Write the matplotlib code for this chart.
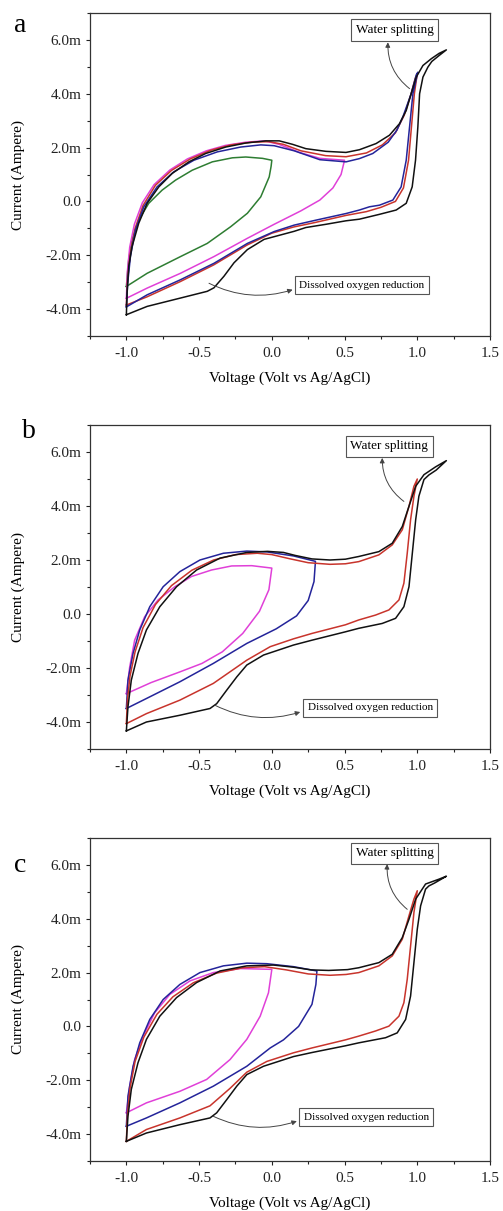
import matplotlib
matplotlib.use("Agg")
import matplotlib.pyplot as plt
from matplotlib.ticker import MultipleLocator, FuncFormatter

plt.rcParams['font.family'] = ['Liberation Serif', 'DejaVu Serif']
plt.rcParams['axes.unicode_minus'] = False

# cyclic voltammograms: (potential V vs Ag/AgCl, current mA), anodic sweep then cathodic return
a_black = [(-1.0, -4.21), (-0.995, -3.41), (-0.984, -2.42), (-0.961, -1.68), (-0.915, -0.81),
           (-0.857, -0.07), (-0.777, 0.54), (-0.685, 1.04), (-0.570, 1.47), (-0.455, 1.78),
           (-0.317, 2.02), (-0.179, 2.17), (-0.041, 2.25), (0.051, 2.25), (0.143, 2.12),
           (0.234, 1.96), (0.372, 1.86), (0.51, 1.82), (0.602, 1.92), (0.717, 2.15),
           (0.809, 2.46), (0.878, 2.89), (0.924, 3.38), (0.958, 4.0), (0.993, 4.62),
           (1.039, 5.05), (1.096, 5.30), (1.15, 5.50), (1.2, 5.63),
           (1.15, 5.42), (1.10, 5.20), (1.073, 4.99), (1.039, 4.62), (1.016, 4.0),
           (1.004, 2.77), (0.988, 1.53), (0.965, 0.54), (0.924, -0.07), (0.855, -0.32),
           (0.740, -0.48), (0.602, -0.66), (0.510, -0.72), (0.372, -0.85), (0.234, -0.97),
           (0.154, -1.11), (-0.053, -1.41), (-0.168, -1.79), (-0.260, -2.28), (-0.329, -2.78),
           (-0.398, -3.21), (-0.444, -3.34), (-0.628, -3.59), (-0.857, -3.90), (-1.0, -4.21)]
a_red = [(-1.0, -3.85), (-0.993, -3.0), (-0.975, -2.0), (-0.94, -1.0), (-0.885, -0.15),
         (-0.80, 0.60), (-0.69, 1.15), (-0.56, 1.58), (-0.42, 1.90), (-0.28, 2.10),
         (-0.14, 2.20), (-0.02, 2.22), (0.08, 2.12), (0.20, 1.88), (0.37, 1.70),
         (0.51, 1.66), (0.65, 1.80), (0.76, 2.10), (0.85, 2.55), (0.91, 3.20),
         (0.955, 3.95), (0.985, 4.55), (1.0, 4.75),
         (0.98, 4.0), (0.96, 2.77), (0.94, 1.53), (0.905, 0.50), (0.85, 0.0),
         (0.75, -0.22), (0.65, -0.38), (0.51, -0.52), (0.30, -0.78),
         (0.15, -0.95), (0.0, -1.18), (-0.17, -1.62), (-0.40, -2.36), (-0.63, -2.98),
         (-0.86, -3.55), (-1.0, -3.85)]
a_blue = [(-1.0, -3.92), (-0.991, -3.04), (-0.972, -2.05), (-0.938, -1.06), (-0.880, -0.20),
          (-0.789, 0.54), (-0.674, 1.10), (-0.536, 1.53), (-0.375, 1.84), (-0.214, 2.02),
          (-0.076, 2.10), (0.016, 2.07), (0.154, 1.88), (0.33, 1.55), (0.51, 1.47),
          (0.602, 1.59), (0.694, 1.78), (0.80, 2.20), (0.86, 2.65), (0.901, 3.14),
          (0.958, 4.0), (0.993, 4.70), (1.004, 4.80),
          (0.97, 4.0), (0.947, 2.77), (0.924, 1.53), (0.889, 0.54), (0.832, 0.05),
          (0.740, -0.14), (0.671, -0.20), (0.602, -0.32), (0.51, -0.45), (0.30, -0.70),
          (0.154, -0.88), (0.016, -1.12), (-0.168, -1.56), (-0.398, -2.30), (-0.628, -2.91),
          (-0.857, -3.47), (-1.0, -3.92)]
a_magenta = [(-1.0, -3.60), (-0.993, -2.60), (-0.977, -1.70), (-0.945, -0.85), (-0.89, -0.05),
             (-0.81, 0.62), (-0.70, 1.17), (-0.58, 1.58), (-0.45, 1.88), (-0.32, 2.08),
             (-0.18, 2.20), (-0.05, 2.25), (0.05, 2.12), (0.19, 1.82), (0.33, 1.60), (0.5, 1.53),
             (0.476, 1.0), (0.42, 0.50), (0.33, 0.05), (0.20, -0.35), (0.016, -0.85),
             (-0.168, -1.37), (-0.398, -2.05), (-0.628, -2.67), (-0.857, -3.22), (-1.0, -3.60)]
a_green = [(-1.0, -3.16), (-0.984, -2.17), (-0.961, -1.43), (-0.915, -0.69), (-0.846, -0.07),
           (-0.754, 0.42), (-0.662, 0.79), (-0.547, 1.16), (-0.409, 1.47), (-0.271, 1.62),
           (-0.179, 1.65), (-0.064, 1.60), (0.0, 1.53),
           (-0.005, 1.30), (-0.018, 0.91), (-0.076, 0.17), (-0.168, -0.44), (-0.283, -0.94),
           (-0.444, -1.56), (-0.628, -2.05), (-0.857, -2.67), (-1.0, -3.16)]

b_black = [(-1.0, -4.33), (-0.989, -3.44), (-0.966, -2.45), (-0.920, -1.46), (-0.862, -0.59),
           (-0.770, 0.27), (-0.655, 1.01), (-0.517, 1.63), (-0.356, 2.07), (-0.172, 2.28),
           (-0.03, 2.32), (0.08, 2.28), (0.16, 2.17), (0.276, 2.04), (0.40, 2.0), (0.506, 2.03),
           (0.598, 2.13), (0.736, 2.31), (0.828, 2.62), (0.897, 3.24), (0.943, 3.99),
           (0.989, 4.73), (1.046, 5.16), (1.126, 5.45), (1.2, 5.68),
           (1.13, 5.33), (1.08, 5.15), (1.046, 4.98), (1.011, 4.36), (0.989, 3.49),
           (0.966, 2.25), (0.943, 1.01), (0.908, 0.27), (0.851, -0.16), (0.759, -0.35),
           (0.598, -0.53), (0.506, -0.66), (0.276, -0.97), (0.149, -1.15), (-0.057, -1.52),
           (-0.172, -1.89), (-0.241, -2.33), (-0.310, -2.82), (-0.379, -3.32), (-0.425, -3.50),
           (-0.632, -3.75), (-0.862, -4.0), (-1.0, -4.33)]
b_red = [(-1.0, -4.06), (-0.993, -3.2), (-0.975, -2.3), (-0.94, -1.4), (-0.885, -0.5),
         (-0.80, 0.35), (-0.69, 1.05), (-0.55, 1.62), (-0.40, 2.0), (-0.25, 2.2), (-0.1, 2.25),
         (0.0, 2.2), (0.12, 2.05), (0.25, 1.9), (0.4, 1.84), (0.506, 1.86), (0.598, 1.94),
         (0.736, 2.19), (0.828, 2.56), (0.897, 3.12), (0.943, 3.99), (0.977, 4.73), (1.0, 5.0),
         (0.977, 4.36), (0.954, 3.49), (0.931, 2.25), (0.908, 1.14), (0.874, 0.52),
         (0.805, 0.15), (0.713, -0.04), (0.598, -0.22), (0.506, -0.40), (0.276, -0.72),
         (0.149, -0.92), (-0.011, -1.21), (-0.172, -1.71), (-0.402, -2.57), (-0.632, -3.19),
         (-0.862, -3.69), (-1.0, -4.06)]
b_blue = [(-1.0, -3.50), (-0.989, -2.45), (-0.954, -1.46), (-0.908, -0.59), (-0.839, 0.27),
          (-0.747, 1.01), (-0.632, 1.57), (-0.494, 2.0), (-0.333, 2.25), (-0.172, 2.33),
          (-0.034, 2.30), (0.149, 2.15), (0.30, 1.95),
          (0.29, 1.20), (0.25, 0.50), (0.17, -0.07), (0.03, -0.55), (-0.172, -1.09),
          (-0.402, -1.83), (-0.632, -2.51), (-0.862, -3.13), (-1.0, -3.50)]
b_magenta = [(-1.0, -2.95), (-0.977, -1.96), (-0.943, -0.97), (-0.874, -0.10), (-0.782, 0.52),
             (-0.667, 1.01), (-0.552, 1.39), (-0.414, 1.63), (-0.276, 1.78), (-0.138, 1.79),
             (0.0, 1.70),
             (-0.02, 0.90), (-0.085, 0.10), (-0.20, -0.72), (-0.34, -1.40), (-0.48, -1.83),
             (-0.63, -2.14), (-0.83, -2.54), (-1.0, -2.95)]

c_black = [(-1.0, -4.27), (-0.989, -3.34), (-0.966, -2.34), (-0.920, -1.35), (-0.862, -0.48),
           (-0.770, 0.38), (-0.655, 1.07), (-0.517, 1.63), (-0.356, 2.06), (-0.172, 2.25),
           (0.011, 2.28), (0.149, 2.20), (0.27, 2.10), (0.391, 2.08), (0.52, 2.11),
           (0.598, 2.18), (0.736, 2.37), (0.828, 2.68), (0.897, 3.30), (0.943, 3.98),
           (0.989, 4.73), (1.057, 5.29), (1.149, 5.47), (1.2, 5.58),
           (1.12, 5.33), (1.08, 5.22), (1.057, 5.10), (1.023, 4.48), (1.0, 3.61),
           (0.977, 2.37), (0.954, 1.13), (0.920, 0.26), (0.862, -0.24), (0.782, -0.42),
           (0.598, -0.61), (0.506, -0.72), (0.276, -0.97), (0.149, -1.12), (-0.057, -1.48),
           (-0.172, -1.79), (-0.241, -2.22), (-0.310, -2.72), (-0.379, -3.21), (-0.425, -3.40),
           (-0.632, -3.65), (-0.862, -3.96), (-1.0, -4.27)]
c_red = [(-1.0, -4.27), (-0.993, -3.30), (-0.975, -2.30), (-0.94, -1.30), (-0.88, -0.40),
         (-0.79, 0.45), (-0.68, 1.10), (-0.54, 1.62), (-0.38, 1.98), (-0.20, 2.18),
         (-0.05, 2.22), (0.10, 2.10), (0.25, 1.95), (0.40, 1.90), (0.51, 1.93), (0.598, 2.0),
         (0.736, 2.25), (0.828, 2.62), (0.897, 3.24), (0.943, 4.11), (0.977, 4.73), (1.0, 5.04),
         (0.977, 4.23), (0.954, 2.99), (0.931, 1.75), (0.908, 0.88), (0.874, 0.38),
         (0.805, 0.01), (0.713, -0.17), (0.598, -0.36), (0.506, -0.50), (0.276, -0.80),
         (0.149, -0.98), (-0.034, -1.30), (-0.172, -1.70), (-0.287, -2.30), (-0.425, -2.95),
         (-0.632, -3.40), (-0.862, -3.83), (-1.0, -4.27)]
c_blue = [(-1.0, -3.71), (-0.989, -2.59), (-0.954, -1.48), (-0.908, -0.61), (-0.839, 0.26),
          (-0.747, 1.0), (-0.632, 1.56), (-0.494, 2.0), (-0.333, 2.25), (-0.172, 2.35),
          (-0.034, 2.33), (0.149, 2.22), (0.31, 2.06),
          (0.303, 1.56), (0.276, 0.82), (0.184, 0.0), (0.08, -0.50), (-0.011, -0.80),
          (-0.172, -1.48), (-0.402, -2.22), (-0.632, -2.84), (-0.862, -3.40), (-1.0, -3.71)]
c_magenta = [(-1.0, -3.21), (-0.977, -2.22), (-0.943, -1.23), (-0.885, -0.36), (-0.805, 0.51),
             (-0.701, 1.19), (-0.563, 1.69), (-0.402, 2.0), (-0.218, 2.15), (0.0, 2.12),
             (-0.023, 1.25), (-0.080, 0.38), (-0.172, -0.48), (-0.287, -1.23), (-0.448, -1.97),
             (-0.632, -2.41), (-0.862, -2.84), (-1.0, -3.21)]

# annotation anchors (V, mA): label centre, arrow start on curve, arrow tip at box
a_water = [(0.844, 6.37), (0.947, 4.19), (0.798, 5.91)]
a_oxygen = [(0.618, -3.12), (-0.432, -3.04), (0.143, -3.28)]
b_water = [(0.807, 6.21), (0.908, 4.17), (0.759, 5.78)]
b_oxygen = [(0.676, -3.48), (-0.391, -3.38), (0.195, -3.63)]
c_water = [(0.844, 6.43), (0.931, 4.35), (0.793, 6.03)]
c_oxygen = [(0.648, -3.37), (-0.402, -3.34), (0.172, -3.52)]

BLACK = '#111111'
RED = '#c8342c'
BLUE = '#24249a'
MAGENTA = '#e040d8'
GREEN = '#2e7d32'

panels = [
    ('a', [(a_green, GREEN), (a_magenta, MAGENTA), (a_red, RED), (a_blue, BLUE), (a_black, BLACK)],
     a_water, a_oxygen),
    ('b', [(b_magenta, MAGENTA), (b_blue, BLUE), (b_red, RED), (b_black, BLACK)],
     b_water, b_oxygen),
    ('c', [(c_magenta, MAGENTA), (c_blue, BLUE), (c_red, RED), (c_black, BLACK)],
     c_water, c_oxygen),
]

W, H = 503, 1211
fig = plt.figure(figsize=(W / 100, H / 100), dpi=100)

# axes boxes in pixels: (top, bottom)
boxes = [(13, 336), (425, 749), (838, 1161)]
letter_pos = [(20, 26), (29, 431), (20, 866)]
left_px, right_px = 90, 490


def ytick_fmt(v, pos):
    if abs(v) < 1e-9:
        return "0.0"
    return f"{v:.1f}m"


def xtick_fmt(v, pos):
    return f"{v:.1f}"


for (letter, curves, water, oxygen), (top, bot), (lx, ly) in zip(panels, boxes, letter_pos):
    ax = fig.add_axes([left_px / W, 1 - bot / H, (right_px - left_px) / W, (bot - top) / H])
    for pts, col in curves:
        v, i = zip(*pts)
        ax.plot(v, i, color=col, lw=1.1, solid_joinstyle='round')

    ax.set_xlim(-1.25, 1.5)
    ax.set_ylim(-5, 7)
    ax.xaxis.set_major_locator(MultipleLocator(0.5))
    ax.xaxis.set_minor_locator(MultipleLocator(0.25))
    ax.yaxis.set_major_locator(MultipleLocator(2))
    ax.yaxis.set_minor_locator(MultipleLocator(1))
    ax.xaxis.set_major_formatter(FuncFormatter(xtick_fmt))
    ax.yaxis.set_major_formatter(FuncFormatter(ytick_fmt))
    ax.tick_params(which='both', direction='out', top=False, right=False, colors='#222222')
    ax.tick_params(which='major', length=3, width=0.8, labelsize=11, pad=3)
    ax.tick_params(which='minor', length=2, width=0.8)
    ax.tick_params(axis='x', which='major', pad=5)
    for s in ax.spines.values():
        s.set_color('#333333')
        s.set_linewidth(0.9)

    ax.set_xlabel("Voltage (Volt vs Ag/AgCl)", fontsize=11)
    ax.set_ylabel("Current (Ampere)", fontsize=11)
    ax.xaxis.set_label_coords(0.5, -42 / (bot - top))
    ax.xaxis.label.set_va('center')
    ax.yaxis.set_label_coords(-72 / (right_px - left_px), 0.5)
    ax.yaxis.label.set_va('center')

    (tx, ty), start, tip = water
    ax.text(tx, ty, "Water splitting", fontsize=9.5, ha='center', va='center',
            bbox=dict(boxstyle='square,pad=0.35', fc='white', ec='#555555', lw=0.8))
    ax.annotate("", xy=tip, xytext=start,
                arrowprops=dict(arrowstyle='-|>', connectionstyle='arc3,rad=-0.25',
                                color='#444444', lw=0.7, mutation_scale=7,
                                shrinkA=0, shrinkB=0))

    (tx, ty), start, tip = oxygen
    ax.text(tx, ty, "Dissolved oxygen reduction", fontsize=8, ha='center', va='center',
            bbox=dict(boxstyle='square,pad=0.4', fc='white', ec='#555555', lw=0.8))
    ax.annotate("", xy=tip, xytext=start,
                arrowprops=dict(arrowstyle='-|>', connectionstyle='arc3,rad=0.2',
                                color='#444444', lw=0.7, mutation_scale=7,
                                shrinkA=0, shrinkB=0))

    fig.text(lx / W, 1 - ly / H, letter, fontsize=20, ha='center', va='center')

fig.savefig("out.png", dpi=100)
